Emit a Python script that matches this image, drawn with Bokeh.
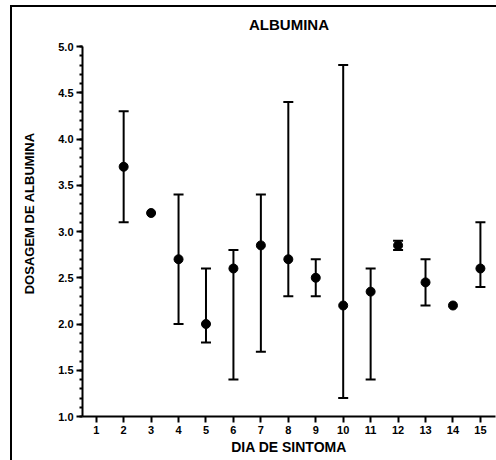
from bokeh.plotting import figure
from bokeh.models import (ColumnDataSource, Whisker, TeeHead, FixedTicker,
                          SingleIntervalTicker, NumeralTickFormatter, Title,
                          Range1d)
from bokeh.embed import file_html
from bokeh.resources import INLINE

# Data
days = [2, 3, 4, 5, 6, 7, 8, 9, 10, 11, 12, 13, 14, 15]
means = [3.7, 3.2, 2.7, 2.0, 2.6, 2.85, 2.7, 2.5, 2.2, 2.35, 2.85, 2.45, 2.2, 2.6]
uppers = [4.3, None, 3.4, 2.6, 2.8, 3.4, 4.4, 2.7, 4.8, 2.6, 2.9, 2.7, None, 3.1]
lowers = [3.1, None, 2.0, 1.8, 1.4, 1.7, 2.3, 2.3, 1.2, 1.4, 2.8, 2.2, None, 2.4]
x_ticks = list(range(1, 16))

title_text = "ALBUMINA"
x_label = "DIA DE SINTOMA"
y_label = "DOSAGEM DE ALBUMINA"

FONT = "Liberation Sans"

pts = ColumnDataSource(dict(x=days, y=means))
ex, eu, el = [], [], []
for d, u, l in zip(days, uppers, lowers):
    if u is not None and l is not None:
        ex.append(d); eu.append(u); el.append(l)
errs = ColumnDataSource(dict(x=ex, upper=eu, lower=el))

p = figure(width=496, height=460, output_backend="svg", toolbar_location=None,
           x_range=Range1d(0.5, 15.55), y_range=Range1d(1.0, 5.0),
           min_border_left=82, min_border_right=1, min_border_top=46,
           min_border_bottom=44)
p.background_fill_color = "white"
p.border_fill_color = None
p.outline_line_color = None
p.xgrid.visible = False
p.ygrid.visible = False
# outer frame of the picture (left and top edges visible)
p.styles = {"box-shadow": "inset 10px 5px 0 0 white, inset 12px 7px 0 0 black",
            "background-color": "white"}

p.title.text = title_text
p.title.align = "center"
p.title.text_font = FONT
p.title.text_font_style = "bold"
p.title.text_font_size = "15px"
p.title.text_color = "black"
p.title.standoff = 27

# axes
xa = p.xaxis[0]
xa.ticker = FixedTicker(ticks=x_ticks, minor_ticks=[])
xa.axis_label = x_label
ya = p.yaxis[0]
ya.ticker = SingleIntervalTicker(interval=0.5, num_minor_ticks=5)
ya.formatter = NumeralTickFormatter(format="0.0")
for ax in (xa, ya):
    ax.axis_line_width = 2
    ax.axis_line_color = "black"
    ax.major_tick_line_width = 2
    ax.minor_tick_line_width = 2
    ax.major_tick_line_color = "black"
    ax.minor_tick_line_color = "black"
    ax.major_tick_out = 6
    ax.major_tick_in = 0
    ax.minor_tick_in = 0
    ax.minor_tick_out = 3
    ax.major_label_text_font = FONT
    ax.major_label_text_font_style = "bold"
    ax.major_label_text_font_size = "11px"
    ax.major_label_text_color = "black"
    ax.major_label_standoff = 3
xa.axis_label_text_font = FONT
xa.axis_label_text_font_style = "bold"
xa.axis_label_text_font_size = "14px"
xa.axis_label_text_color = "black"
xa.axis_label_standoff = 2

ytitle = Title(text=y_label, align="right", offset=86, standoff=38,
               text_font=FONT, text_font_style="bold", text_font_size="13px",
               text_color="black")
p.add_layout(ytitle, "left")

# error bars
wh = Whisker(source=errs, base="x", upper="upper", lower="lower",
             line_width=2, line_color="black",
             upper_head=TeeHead(size=10, line_width=2, line_color="black"),
             lower_head=TeeHead(size=10, line_width=2, line_color="black"))
p.add_layout(wh)

p.scatter("x", "y", source=pts, size=9, color="black", marker="circle")

open("out.html", "w").write(file_html(p, INLINE))
